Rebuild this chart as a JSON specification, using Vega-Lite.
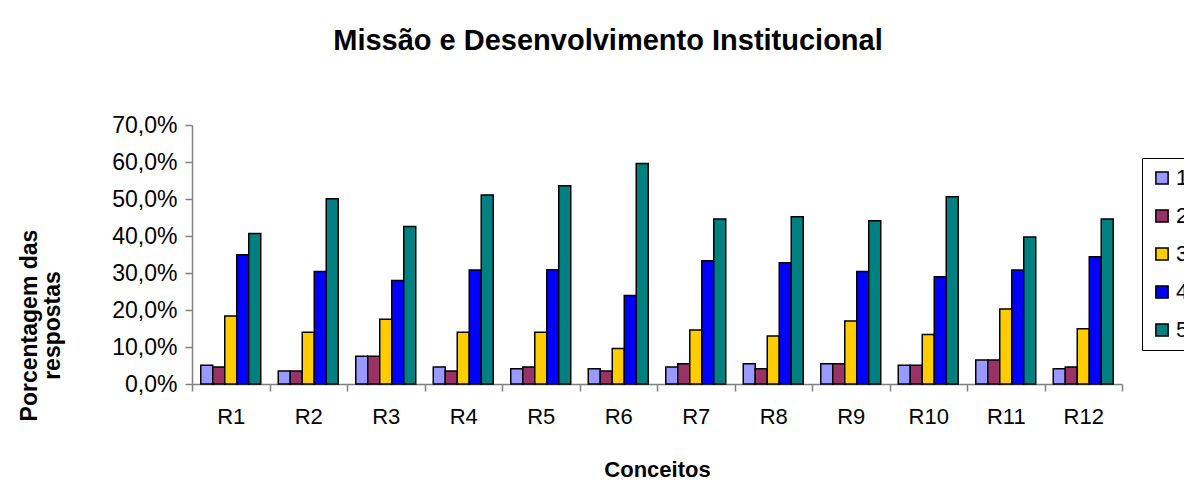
{
  "$schema": "https://vega.github.io/schema/vega-lite/v6.json",
  "autosize": {"type": "none"},
  "width": 930,
  "height": 259,
  "padding": {"left": 192, "top": 125, "right": 62, "bottom": 113},
  "background": "white",
  "title": {
    "text": "Missão e Desenvolvimento Institucional",
    "font": "Liberation Sans",
    "fontSize": 29,
    "fontWeight": "bold",
    "color": "black",
    "anchor": "middle",
    "dx": -49,
    "offset": 58
  },
  "data": {
    "values": [
      {"c": "R1", "s": "1", "v": 5.1}, {"c": "R1", "s": "2", "v": 4.6}, {"c": "R1", "s": "3", "v": 18.4}, {"c": "R1", "s": "4", "v": 34.9}, {"c": "R1", "s": "5", "v": 40.7},
      {"c": "R2", "s": "1", "v": 3.5}, {"c": "R2", "s": "2", "v": 3.5}, {"c": "R2", "s": "3", "v": 14.0}, {"c": "R2", "s": "4", "v": 30.4}, {"c": "R2", "s": "5", "v": 50.1},
      {"c": "R3", "s": "1", "v": 7.5}, {"c": "R3", "s": "2", "v": 7.5}, {"c": "R3", "s": "3", "v": 17.5}, {"c": "R3", "s": "4", "v": 28.0}, {"c": "R3", "s": "5", "v": 42.6},
      {"c": "R4", "s": "1", "v": 4.6}, {"c": "R4", "s": "2", "v": 3.5}, {"c": "R4", "s": "3", "v": 14.0}, {"c": "R4", "s": "4", "v": 30.8}, {"c": "R4", "s": "5", "v": 51.1},
      {"c": "R5", "s": "1", "v": 4.1}, {"c": "R5", "s": "2", "v": 4.6}, {"c": "R5", "s": "3", "v": 14.0}, {"c": "R5", "s": "4", "v": 30.9}, {"c": "R5", "s": "5", "v": 53.6},
      {"c": "R6", "s": "1", "v": 4.1}, {"c": "R6", "s": "2", "v": 3.5}, {"c": "R6", "s": "3", "v": 9.6}, {"c": "R6", "s": "4", "v": 23.9}, {"c": "R6", "s": "5", "v": 59.6},
      {"c": "R7", "s": "1", "v": 4.6}, {"c": "R7", "s": "2", "v": 5.5}, {"c": "R7", "s": "3", "v": 14.6}, {"c": "R7", "s": "4", "v": 33.3}, {"c": "R7", "s": "5", "v": 44.6},
      {"c": "R8", "s": "1", "v": 5.5}, {"c": "R8", "s": "2", "v": 4.1}, {"c": "R8", "s": "3", "v": 13.0}, {"c": "R8", "s": "4", "v": 32.8}, {"c": "R8", "s": "5", "v": 45.2},
      {"c": "R9", "s": "1", "v": 5.5}, {"c": "R9", "s": "2", "v": 5.5}, {"c": "R9", "s": "3", "v": 17.0}, {"c": "R9", "s": "4", "v": 30.4}, {"c": "R9", "s": "5", "v": 44.1},
      {"c": "R10", "s": "1", "v": 5.1}, {"c": "R10", "s": "2", "v": 5.1}, {"c": "R10", "s": "3", "v": 13.4}, {"c": "R10", "s": "4", "v": 29.0}, {"c": "R10", "s": "5", "v": 50.6},
      {"c": "R11", "s": "1", "v": 6.5}, {"c": "R11", "s": "2", "v": 6.5}, {"c": "R11", "s": "3", "v": 20.3}, {"c": "R11", "s": "4", "v": 30.8}, {"c": "R11", "s": "5", "v": 39.7},
      {"c": "R12", "s": "1", "v": 4.1}, {"c": "R12", "s": "2", "v": 4.6}, {"c": "R12", "s": "3", "v": 14.9}, {"c": "R12", "s": "4", "v": 34.4}, {"c": "R12", "s": "5", "v": 44.6}
    ]
  },
  "mark": {"type": "bar", "stroke": "black", "strokeWidth": 1.5},
  "encoding": {
    "x": {
      "field": "c",
      "type": "nominal",
      "sort": null,
      "scale": {"paddingInner": 0, "paddingOuter": 0},
      "axis": {
        "title": "Conceitos",
        "titleFont": "Liberation Sans",
        "titleFontSize": 22,
        "titleFontWeight": "bold",
        "titleColor": "black",
        "titlePadding": 32,
        "labelAngle": 0,
        "labelFont": "Liberation Sans",
        "labelFontSize": 22,
        "labelColor": "black",
        "labelPadding": 15,
        "tickBand": "extent",
        "tickSize": 7,
        "tickColor": "#808080",
        "domainColor": "#808080",
        "domainWidth": 1.5,
        "tickWidth": 1.5,
        "grid": false
      }
    },
    "xOffset": {
      "field": "s",
      "type": "nominal",
      "scale": {"paddingInner": 0, "paddingOuter": 0.73}
    },
    "y": {
      "field": "v",
      "type": "quantitative",
      "scale": {"domain": [0, 70], "nice": false},
      "axis": {
        "title": ["Porcentagem das", "respostas"],
        "titleFont": "Liberation Sans",
        "titleFontSize": 23,
        "titleFontWeight": "bold",
        "titleColor": "black",
        "titleLineHeight": 23,
        "titleX": -174,
        "titleY": 200,
        "titleAngle": -90,
        "titleAlign": "center",
        "titleBaseline": "top",
        "values": [0, 10, 20, 30, 40, 50, 60, 70],
        "labelExpr": "replace(format(datum.value, '.1f'), '.', ',') + '%'",
        "labelFont": "Liberation Sans",
        "labelFontSize": 23,
        "labelColor": "black",
        "labelPadding": 8,
        "tickSize": 7,
        "tickColor": "#808080",
        "domainColor": "#808080",
        "domainWidth": 1.5,
        "tickWidth": 1.5,
        "grid": false
      }
    },
    "fill": {
      "field": "s",
      "type": "nominal",
      "scale": {"domain": ["1", "2", "3", "4", "5"], "range": ["#9999FF", "#993366", "#FFCC00", "#0000FF", "#008080"]},
      "legend": {
        "title": null,
        "orient": "none",
        "legendX": 950,
        "legendY": 33,
        "strokeColor": "black",
        "padding": 9,
        "symbolType": "square",
        "symbolSize": 150,
        "symbolStrokeColor": "black",
        "symbolStrokeWidth": 1.5,
        "labelFont": "Liberation Sans",
        "labelFontSize": 22,
        "labelColor": "black",
        "rowPadding": 16,
        "labelOffset": 3
      }
    }
  },
  "config": {"view": {"stroke": null}}
}
